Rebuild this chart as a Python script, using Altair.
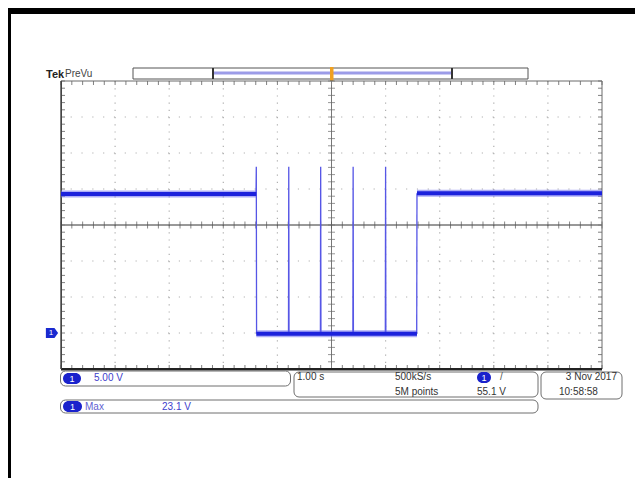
import altair as alt
import pandas as pd

# ---------------- data ----------------
# horizontal: 1.00 s/div, 10 divisions, trigger at centre (seconds)
# vertical: 5.00 V/div, 8 divisions, CH1 ground 3 div below centre (volts)
X_DOMAIN = [-5.0, 5.0]
Y_DOMAIN = [-5.0, 35.0]

# thick, noisy flat parts of the CH1 trace
band_part = ["pre", "pre", "low", "low", "post", "post"]
band_time = [-5.0, -1.39, -1.39, 1.58, 1.58, 5.0]
band_volt = [19.3, 19.3, -0.1, -0.1, 19.4, 19.4]

# thin edges and spikes
edge_id = ["fall", "fall", "fall",
           "s1", "s1", "s1",
           "s2", "s2", "s2",
           "s3", "s3", "s3",
           "s4", "s4", "s4",
           "rise", "rise"]
edge_time = [-1.395, -1.39, -1.385,
             -0.795, -0.79, -0.785,
             -0.205, -0.20, -0.195,
             0.395, 0.40, 0.405,
             0.995, 1.00, 1.005,
             1.575, 1.58]
edge_volt = [19.3, 23.1, -0.1,
             -0.1, 23.1, -0.1,
             -0.1, 23.1, -0.1,
             -0.1, 23.1, -0.1,
             -0.1, 23.1, -0.1,
             -0.1, 19.4]

# graticule
major_x = [-4, -3, -2, -1, 1, 2, 3, 4]
major_y = [0, 5, 10, 20, 25, 30]
centre_x = [0]
centre_y = [15]
minor_x = [-5 + 0.2 * i for i in range(51)]
minor_y = [-5 + 1.0 * i for i in range(41)]
ground_level = [0]

# readout texts
BRAND = "Tek"
MODE = "PreVu"
CH_NUM = "1"
CH_SCALE = "5.00 V"
TIMEBASE = "1.00 s"
SAMPLE_RATE = "500kS/s"
RECORD_LEN = "5M points"
TRIG_SLOPE = "/"
TRIG_LEVEL = "55.1 V"
DATE = "3 Nov 2017"
TIME = "10:58:58"
MEAS_NAME = "Max"
MEAS_VALUE = "23.1 V"

# ---------------- chart ----------------
FONT = "Liberation Sans"
BLUE = "#1c22dc"
TXT_BLUE = "#4040cc"

xs = alt.Scale(domain=X_DOMAIN, nice=False, zero=False)
ys = alt.Scale(domain=Y_DOMAIN, nice=False, zero=False)

band_df = pd.DataFrame({"part": band_part, "t": band_time, "v": band_volt,
                        "i": list(range(len(band_time)))})
edge_df = pd.DataFrame({"part": edge_id, "t": edge_time, "v": edge_volt,
                        "i": list(range(len(edge_time)))})
one = pd.DataFrame({"k": [0]})


def X(f="t"):
    return alt.X(f + ":Q", scale=xs, axis=None)


def Y(f="v"):
    return alt.Y(f + ":Q", scale=ys, axis=None)


def box(x, x2, y, y2, fill="white", stroke=None, sw=1, r=0, opacity=1):
    kw = dict(fill=fill, cornerRadius=r, opacity=opacity)
    if stroke:
        kw.update(stroke=stroke, strokeWidth=sw)
    return alt.Chart(one).mark_rect(**kw).encode(
        x=alt.value(x), x2=alt.value(x2), y=alt.value(y), y2=alt.value(y2))


def txt(s, x, y, color="#333333", size=10, align="left", weight="normal"):
    return alt.Chart(one).mark_text(
        text=s, align=align, baseline="middle", fontSize=size, color=color,
        fontWeight=weight, font=FONT).encode(x=alt.value(x), y=alt.value(y))


layers = []

# outer frame (black bar on top, black line on the left)
layers.append(box(-53, 574, -73, -67, fill="black"))
layers.append(box(-53, -50, -73, 397, fill="black"))

# record view bar at the top
layers.append(box(72, 467, -13, -2, fill="white", stroke="#555555", sw=1))
layers.append(box(152, 391, -9.5, -6.5, fill="#9c9ce8"))
layers.append(box(151, 153, -13, -2, fill="#333333"))
layers.append(box(390, 392, -13, -2, fill="#333333"))
layers.append(box(269, 272.5, -14, 0, fill="#f0a020"))

# Tek PreVu
layers.append(txt(BRAND, -15, -6, color="#222222", size=11, weight="bold"))
layers.append(txt(MODE, 4, -7, color="#444444", size=10))

# graticule: dotted grid
vgrid = pd.DataFrame({"t": major_x})
hgrid = pd.DataFrame({"v": major_y})
layers.append(alt.Chart(vgrid).mark_rule(color="#b0b0b0", strokeWidth=1.2,
                                         strokeDash=[1.2, 6.0]).encode(x=X()))
layers.append(alt.Chart(hgrid).mark_rule(color="#b0b0b0", strokeWidth=1.2,
                                         strokeDash=[1.2, 9.62]).encode(y=Y()))
# centre cross
layers.append(alt.Chart(pd.DataFrame({"t": centre_x})).mark_rule(
    color="#777777", strokeWidth=1).encode(x=X()))
layers.append(alt.Chart(pd.DataFrame({"v": centre_y})).mark_rule(
    color="#333333", strokeWidth=1).encode(y=Y()))
mx = pd.DataFrame({"t": minor_x})
my = pd.DataFrame({"v": minor_y})
layers.append(alt.Chart(mx).mark_tick(orient="vertical", size=7, thickness=1,
                                      color="#555555").encode(
    x=X(), y=alt.YDatum(centre_y[0], scale=ys, axis=None)))
layers.append(alt.Chart(my).mark_tick(orient="horizontal", size=7, thickness=1,
                                      color="#6a6a6a").encode(
    y=Y(), x=alt.XDatum(centre_x[0], scale=xs, axis=None)))
# edge ticks
layers.append(alt.Chart(mx).mark_rule(color="#808080").encode(
    x=X(), y=alt.value(0), y2=alt.value(4)))
layers.append(alt.Chart(mx).mark_rule(color="#808080").encode(
    x=X(), y=alt.value(284), y2=alt.value(288)))
layers.append(alt.Chart(my).mark_rule(color="#808080").encode(
    y=Y(), x=alt.value(0), x2=alt.value(4)))
layers.append(alt.Chart(my).mark_rule(color="#808080").encode(
    y=Y(), x=alt.value(537), x2=alt.value(541)))
# border
layers.append(box(0, 541, 0, 288, fill="transparent", stroke="#6a6a6a", sw=1))
layers.append(box(0, 541, 287, 289.5, fill="#222222"))
layers.append(box(-0.5, 1, 0, 288, fill="#444444"))

# trace
layers.append(alt.Chart(edge_df).mark_line(color="#5656e6", strokeWidth=1.3).encode(
    x=X(), y=Y(), detail="part:N", order="i:Q"))
layers.append(alt.Chart(band_df).mark_line(color="#6a6af0", strokeWidth=7,
                                           opacity=0.55, strokeCap="butt").encode(
    x=X(), y=Y(), detail="part:N", order="i:Q"))
layers.append(alt.Chart(band_df).mark_line(color=BLUE, strokeWidth=4,
                                           strokeCap="butt").encode(
    x=X(), y=Y(), detail="part:N", order="i:Q"))

# ground marker
gd = pd.DataFrame({"v": ground_level})
layers.append(alt.Chart(gd).mark_point(
    shape="M-1,-0.8L0.4,-0.8L1,0L0.4,0.8L-1,0.8Z", filled=True, opacity=1,
    color="#1a2ad0", size=150).encode(x=alt.value(-9), y=Y()))
layers.append(alt.Chart(gd).mark_text(
    text=CH_NUM, color="white", fontSize=8, font=FONT, baseline="middle",
    align="center").encode(x=alt.value(-10), y=Y()))

# bottom readout boxes
layers.append(box(-0.5, 229.5, 290, 305, stroke="#6f6f6f", sw=1, r=5))
layers.append(box(233, 477, 291, 316, stroke="#6f6f6f", sw=1, r=5))
layers.append(box(480, 561, 291, 318, stroke="#6f6f6f", sw=1, r=5))
layers.append(box(-0.5, 477, 319, 332, stroke="#6f6f6f", sw=1, r=5))

# channel badges
layers.append(box(2, 20, 292, 303, fill="#1a22cc", r=5.5))
layers.append(txt(CH_NUM, 11, 297.5, color="white", size=9, align="center"))
layers.append(box(2, 21, 320, 331, fill="#1a22cc", r=5.5))
layers.append(txt(CH_NUM, 11.5, 325.5, color="white", size=9, align="center"))
layers.append(box(416, 430, 291, 302, fill="#1a22cc", r=5.5))
layers.append(txt(CH_NUM, 423, 296.5, color="white", size=9, align="center"))

# readout texts
layers.append(txt(CH_SCALE, 33, 297, color=TXT_BLUE))
layers.append(txt(TIMEBASE, 236, 296))
layers.append(txt(SAMPLE_RATE, 334, 296))
layers.append(txt(RECORD_LEN, 334, 311))
layers.append(txt(TRIG_SLOPE, 439, 296, color="#555555"))
layers.append(txt(TRIG_LEVEL, 416, 311))
layers.append(txt(DATE, 556, 296, align="right"))
layers.append(txt(TIME, 498, 311))
layers.append(txt(MEAS_NAME, 24, 325.5, color="#6262d2"))
layers.append(txt(MEAS_VALUE, 101, 325.5, color=TXT_BLUE))

chart = alt.layer(*layers).properties(
    width=541, height=288,
    padding={"left": 53, "top": 73, "right": 33, "bottom": 109},
    autosize=alt.AutoSizeParams(type="none"),
    background="white",
).configure_view(strokeWidth=0)

chart.save("out.html", embed_options={"renderer": "svg", "actions": False})
